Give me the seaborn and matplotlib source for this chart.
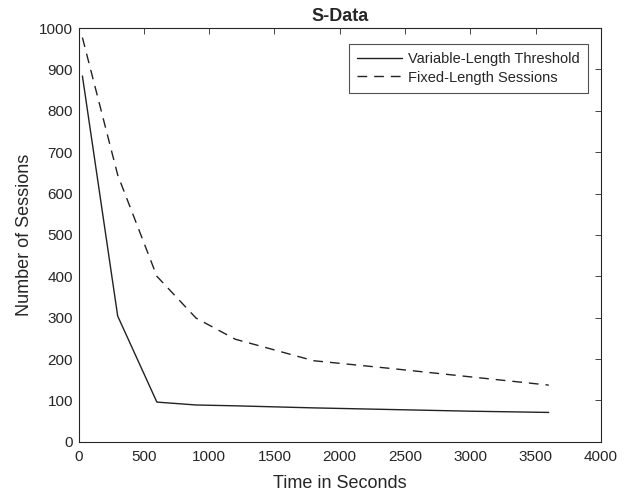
import pandas as pd
import matplotlib
matplotlib.use("Agg")
import matplotlib.pyplot as plt
import seaborn as sns

# du lieu doc tu hinh
time_var = [30, 300, 600, 900, 1200, 1800, 2400, 3000, 3600]
sessions_var = [884, 304, 96, 89, 87, 82, 78, 74, 71]

time_fixed = [30, 300, 600, 900, 1200, 1800, 2400, 3000, 3600]
sessions_fixed = [977, 645, 400, 299, 248, 196, 177, 157, 137]

labels = ["Variable-Length Threshold", "Fixed-Length Sessions"]

df = pd.concat([
    pd.DataFrame({"t": time_var, "n": sessions_var, "kind": labels[0]}),
    pd.DataFrame({"t": time_fixed, "n": sessions_fixed, "kind": labels[1]}),
])

sns.set_style("white")
plt.rcParams["font.family"] = ["Liberation Sans", "DejaVu Sans"]
plt.rcParams["xtick.direction"] = "in"
plt.rcParams["ytick.direction"] = "in"

fig = plt.figure(figsize=(6.28, 4.92), dpi=100)
ax = fig.add_axes([0.125, 0.102, 0.832, 0.841])

sns.lineplot(data=df, x="t", y="n", hue="kind", style="kind",
             palette=["black", "black"], dashes=[(None, None), (7, 5)],
             linewidth=1.0, ax=ax, legend=True)
for ln in ax.lines:
    ln.set_color("#222222")

ax.set_xlim(0, 4000)
ax.set_ylim(0, 1000)
ax.set_xticks(range(0, 4001, 500))
ax.set_yticks(range(0, 1001, 100))
ax.tick_params(axis="both", labelsize=11, colors="#262626", length=4,
               top=True, right=True, width=0.6)
ax.tick_params(axis="x", pad=6)
ax.tick_params(axis="y", pad=4)
for s in ax.spines.values():
    s.set_color("#262626")
    s.set_linewidth(0.8)

ax.set_title("S-Data", fontsize=13, fontweight="bold", pad=5)
ax.set_xlabel("Time in Seconds", fontsize=13, labelpad=8)
ax.set_ylabel("Number of Sessions", fontsize=13, labelpad=4)

leg = ax.legend(loc="upper right", bbox_to_anchor=(0.975, 0.961),
                borderaxespad=0, fontsize=10.5, frameon=True, fancybox=False,
                edgecolor="#262626", handlelength=3.1,
                labelspacing=0.3, borderpad=0.55, handletextpad=0.4)
leg.get_frame().set_linewidth(0.8)

fig.savefig("out.png", dpi=100)
